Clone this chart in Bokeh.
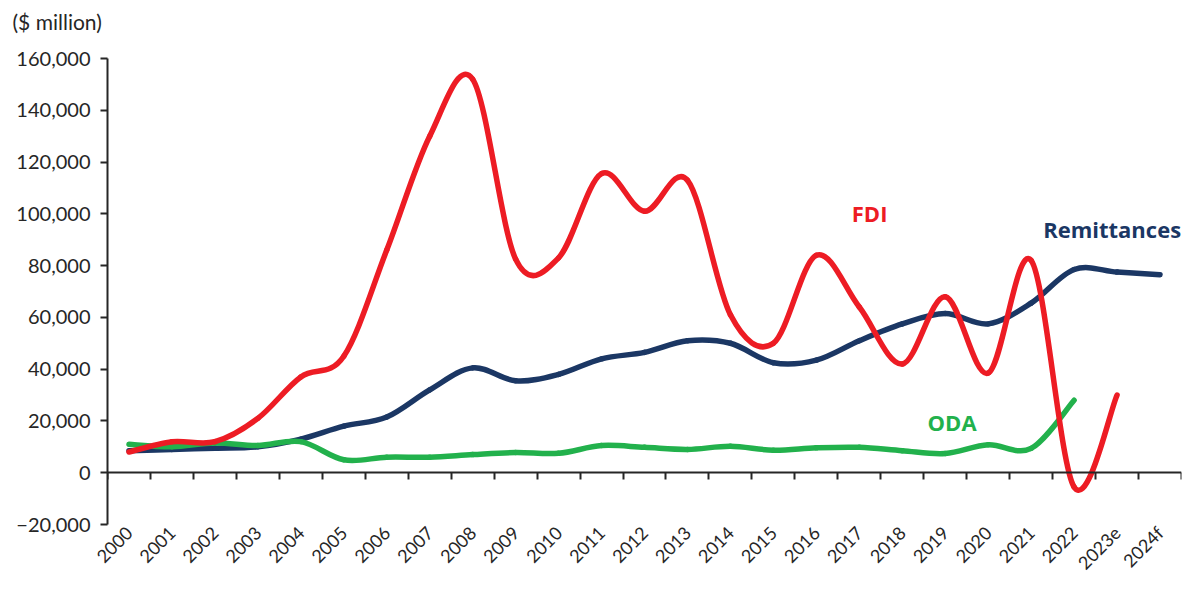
import math
from bokeh.plotting import figure
from bokeh.models import Range1d, LinearAxis, FixedTicker, NumeralTickFormatter, Label, Title
from bokeh.embed import file_html
from bokeh.resources import INLINE

years = ["2000", "2001", "2002", "2003", "2004", "2005", "2006", "2007", "2008", "2009",
         "2010", "2011", "2012", "2013", "2014", "2015", "2016", "2017", "2018", "2019",
         "2020", "2021", "2022", "2023e", "2024f"]

# $ million
fdi = [8000, 12000, 12000, 21000, 37000, 45000, 86000, 130000, 152000, 82500,
       83000, 115500, 101000, 113000, 61000, 50000, 84000, 64000, 42000, 68000,
       38500, 82000, -5500, 30000]
remittances = [8500, 9000, 9500, 10000, 13000, 18000, 21500, 32000, 40500, 35500,
               38000, 44000, 46500, 51000, 50000, 42500, 43500, 51000, 57500, 61500,
               57500, 65500, 78500, 77500, 76500]
oda = [11000, 10000, 11500, 10500, 12000, 5000, 6000, 6000, 7000, 7800,
       7500, 10500, 9800, 9000, 10200, 8700, 9600, 9800, 8500, 7400,
       10800, 9400, 28000]

y_ticks = list(range(-20000, 160001, 20000))

RED = "#ED1C24"
NAVY = "#1B3764"
GREEN = "#22B14C"
AXIS = "#262626"
FONT = "Lato"
LABEL_FONT = "Open Sans"


def bezier_source(values):
    xs = list(range(len(values)))
    n = len(values)
    d = dict(x0=[], y0=[], x1=[], y1=[], cx0=[], cy0=[], cx1=[], cy1=[])
    for i in range(n - 1):
        pm = max(i - 1, 0)
        pp = min(i + 2, n - 1)
        d["x0"].append(xs[i]); d["y0"].append(values[i])
        d["x1"].append(xs[i + 1]); d["y1"].append(values[i + 1])
        d["cx0"].append(xs[i] + (xs[i + 1] - xs[pm]) / 6)
        d["cy0"].append(values[i] + (values[i + 1] - values[pm]) / 6)
        d["cx1"].append(xs[i + 1] - (xs[pp] - xs[i]) / 6)
        d["cy1"].append(values[i + 1] - (values[pp] - values[i]) / 6)
    return d


p = figure(width=1183, height=584, output_backend="svg", toolbar_location=None,
           x_range=Range1d(-0.5, 24.5), y_range=Range1d(-20000, 160000),
           x_axis_location=None, y_axis_location="left",
           min_border_left=107, min_border_right=2, min_border_top=58, min_border_bottom=55)
p.outline_line_color = None
p.xgrid.visible = False
p.ygrid.visible = False
p.background_fill_color = "white"
p.border_fill_color = "white"

# y axis
ya = p.yaxis[0]
ya.ticker = FixedTicker(ticks=y_ticks)
ya.formatter = NumeralTickFormatter(format="0,0")
ya.major_label_overrides = {-20000: "\u221220,000"}
ya.minor_tick_line_color = None
ya.major_tick_in = 0
ya.major_tick_out = 7
ya.major_tick_line_width = 2
ya.major_tick_line_color = AXIS
ya.axis_line_width = 2
ya.axis_line_color = AXIS
ya.major_label_standoff = 10
ya.major_label_text_font = FONT
ya.major_label_text_font_size = "20px"
ya.major_label_text_color = AXIS

# x axis line at zero with ticks at category boundaries
zero_axis = LinearAxis(fixed_location=0,
                       ticker=FixedTicker(ticks=[i - 0.5 for i in range(len(years) + 1)]),
                       major_tick_in=7, major_tick_out=0,
                       major_tick_line_width=2, major_tick_line_color=AXIS,
                       minor_tick_line_color=None,
                       axis_line_width=2, axis_line_color=AXIS,
                       major_label_text_color=None, major_label_text_font_size="1px",
                       major_label_standoff=0)
p.add_layout(zero_axis, "above")

# category labels at bottom
label_axis = LinearAxis(ticker=FixedTicker(ticks=list(range(len(years)))),
                        major_label_overrides={i: y for i, y in enumerate(years)},
                        axis_line_color=None, major_tick_line_color=None,
                        minor_tick_line_color=None,
                        major_tick_in=0, major_tick_out=0,
                        major_label_orientation=math.pi / 4,
                        major_label_standoff=5,
                        major_label_text_font=FONT,
                        major_label_text_font_size="18px",
                        major_label_text_color=AXIS)
p.add_layout(label_axis, "below")

# unit note above the y axis (second, blank line lifts it above the plot area)
p.add_layout(Title(text="($ million)\n\u00a0", align="left", offset=-95, standoff=0,
                   vertical_align="bottom", text_font=FONT, text_font_size="21px",
                   text_font_style="normal", text_color=AXIS), "above")

for vals, col in [(remittances, NAVY), (oda, GREEN), (fdi, RED)]:
    d = bezier_source(vals)
    p.bezier(x0="x0", y0="y0", x1="x1", y1="y1", cx0="cx0", cy0="cy0", cx1="cx1", cy1="cy1",
             source=d, line_color=col, line_width=5.5, line_cap="round")

p.add_layout(Label(x=17.24, y=100300, text="FDI", text_color=RED, text_font=LABEL_FONT,
                   text_font_size="22px", text_font_style="bold",
                   text_align="center", text_baseline="middle"))
p.add_layout(Label(x=24.49, y=94200, text="Remittances", text_color=NAVY, text_font=LABEL_FONT,
                   text_font_size="22px", text_font_style="bold",
                   text_align="right", text_baseline="middle"))
p.add_layout(Label(x=19.16, y=19400, text="ODA", text_color=GREEN, text_font=LABEL_FONT,
                   text_font_size="22px", text_font_style="bold",
                   text_align="center", text_baseline="middle"))

open("out.html", "w").write(file_html(p, INLINE))
